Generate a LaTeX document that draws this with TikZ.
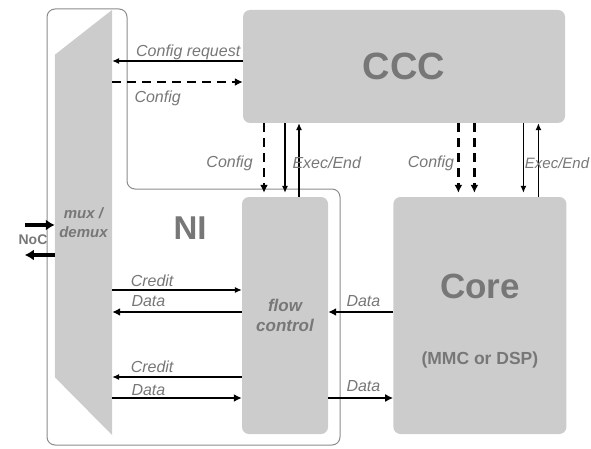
\documentclass[tikz,border=0pt]{standalone}
\usepackage{fontspec}
\setmainfont{Liberation Sans}
\usetikzlibrary{arrows.meta, positioning, calc}
\definecolor{siva}{HTML}{CCCCCC}
\definecolor{tekst}{HTML}{777777}
\definecolor{rub}{HTML}{8C8C8C}

\begin{document}
\begin{tikzpicture}[
  x=1pt, y=-1pt,
  blok/.style={fill=siva, rounded corners=7pt, inner sep=0pt, text=tekst, align=center},
  naslov/.style={font=\fontsize{35}{40}\selectfont\bfseries, text=tekst},
  ozn/.style={font=\fontsize{16}{18}\selectfont\itshape, text=tekst, inner sep=1pt},
  tanka/.style={line width=1.1pt, >={Latex[length=7pt, width=6pt]}},
  debela/.style={line width=2.6pt, >={Latex[length=8pt, width=8pt]}},
  crt/.style={debela, dash pattern=on 9pt off 6pt},
  noc/.style={line width=4pt, >={Latex[length=9pt, width=11pt]}}
]
  \useasboundingbox (0,0) rectangle (591,449);

  \draw[rub, line width=1pt, rounded corners=8pt]
    (47,9) -- (127,9) -- (127,189) -- (340,189) -- (340,445) -- (47,445) -- cycle;

  \node[minimum width=57pt, minimum height=425pt, inner sep=0pt] (mux) at (83.5,222.5) {};
  \fill[siva] (mux.north east) -- (mux.south east) -- ($(mux.south west)+(0,-58)$)
    -- ($(mux.north west)+(0,45)$) -- cycle;
  \node[font=\fontsize{15}{19}\selectfont\bfseries\itshape, text=tekst, align=center]
    (muxtxt) at (mux) {mux /\\demux};

  \node[blok, minimum width=322pt, minimum height=113pt, naslov,
        font=\fontsize{38}{42}\selectfont\bfseries] (ccc) at (404,66.5) {CCC};
  \node[blok, minimum width=86pt, minimum height=237pt,
        font=\fontsize{17}{20}\selectfont\bfseries\itshape] (fc) at (285,315.5) {flow\\control};
  \node[blok, minimum width=173pt, minimum height=237pt, right=65pt of fc] (core) {};
  \node[naslov] (coretxt) at ($(core.center)+(0,-29.5)$) {Core};
  \node[font=\fontsize{17.5}{20}\selectfont\bfseries, text=tekst]
    (mmc) at ($(core.center)+(0,44.5)$) {(MMC or DSP)};
  \node[naslov, font=\fontsize{33}{38}\selectfont\bfseries] (ni) at (190,228) {NI};
  \node[font=\fontsize{14}{16}\selectfont\bfseries, text=tekst] (noctxt) at (33,240) {NoC};

  \coordinate (noc1) at ($(mux.west)+(-30,2.5)$);
  \coordinate (noc2) at ($(mux.west)+(-30,32.5)$);
  \draw[noc, ->] (noc1) -- (noc1 -| mux.west);
  \draw[noc, ->] (noc2 -| mux.west) -- (noc2);

  \coordinate (z1) at ($(ccc.west)+(0,-5.5)$);
  \coordinate (z2) at ($(ccc.west)+(0,15.5)$);
  \draw[tanka, ->] (z1) -- node[ozn, above left, pos=0, xshift=-1pt] {Config request} (z1 -| mux.east);
  \draw[crt, ->] (z2 -| mux.east) -- node[ozn, below right, pos=0, xshift=20pt, yshift=-7pt] {Config} (z2);

  \coordinate (k1) at ($(fc.west)+(0,-25.5)$);
  \coordinate (k2) at ($(fc.west)+(0,-3.5)$);
  \coordinate (k3) at ($(fc.west)+(0,61.5)$);
  \coordinate (k4) at ($(fc.west)+(0,82.5)$);
  \draw[tanka, ->] (k1 -| mux.east) -- node[ozn, above right, pos=0, xshift=17pt, yshift=2pt] {Credit} (k1);
  \draw[debela, <-] (k2 -| mux.east) -- node[ozn, above right, pos=0, xshift=17pt, yshift=3pt] {Data} (k2);
  \draw[tanka, <-] (k3 -| mux.east) -- node[ozn, above right, pos=0, xshift=17pt, yshift=3pt] {Credit} (k3);
  \draw[debela, ->] (k4 -| mux.east) -- node[ozn, above right, pos=0, xshift=17pt] {Data} (k4);

  \draw[debela, ->] (k2 -| core.west) -- node[ozn, above right, pos=1, xshift=16pt, yshift=3pt] {Data} (k2 -| fc.east);
  \draw[debela, ->] (k4 -| fc.east) -- node[ozn, above right, pos=0, xshift=16pt, yshift=4pt] {Data} (k4 -| core.west);

  \coordinate (a1) at ($(fc.north)+(-21,0)$);
  \coordinate (a2) at (fc.north);
  \coordinate (a3) at ($(fc.north)+(14,0)$);
  \draw[crt, ->, shorten >=4pt] (a1 |- ccc.south) -- node[ozn, left, pos=0.54, xshift=-9pt] {Config} (a1);
  \draw[tanka, ->, shorten >=4pt] (a2 |- ccc.south) -- (a2);
  \draw[tanka, ->] (a3) -- node[ozn, right, pos=0.46, xshift=-8pt] {Exec/End} (a3 |- ccc.south);

  \coordinate (b1) at ($(core.north)+(-21.5,0)$);
  \coordinate (b2) at ($(core.north)+(-5.5,0)$);
  \coordinate (b3) at ($(core.north)+(43.5,0)$);
  \coordinate (b4) at ($(core.north)+(58.5,0)$);
  \draw[crt, ->, shorten >=4pt] (b1 |- ccc.south) -- node[ozn, left, pos=0.54, xshift=-2pt] {Config} (b1);
  \draw[crt, ->, shorten >=4pt] (b2 |- ccc.south) -- (b2);
  \draw[tanka, ->, shorten >=4pt] (b3 |- ccc.south) -- (b3);
  \draw[tanka, ->] (b4) -- node[ozn, right, pos=0.46, xshift=-15pt,
    font=\fontsize{15}{18}\selectfont\itshape] {Exec/End} (b4 |- ccc.south);
\end{tikzpicture}
\end{document}
